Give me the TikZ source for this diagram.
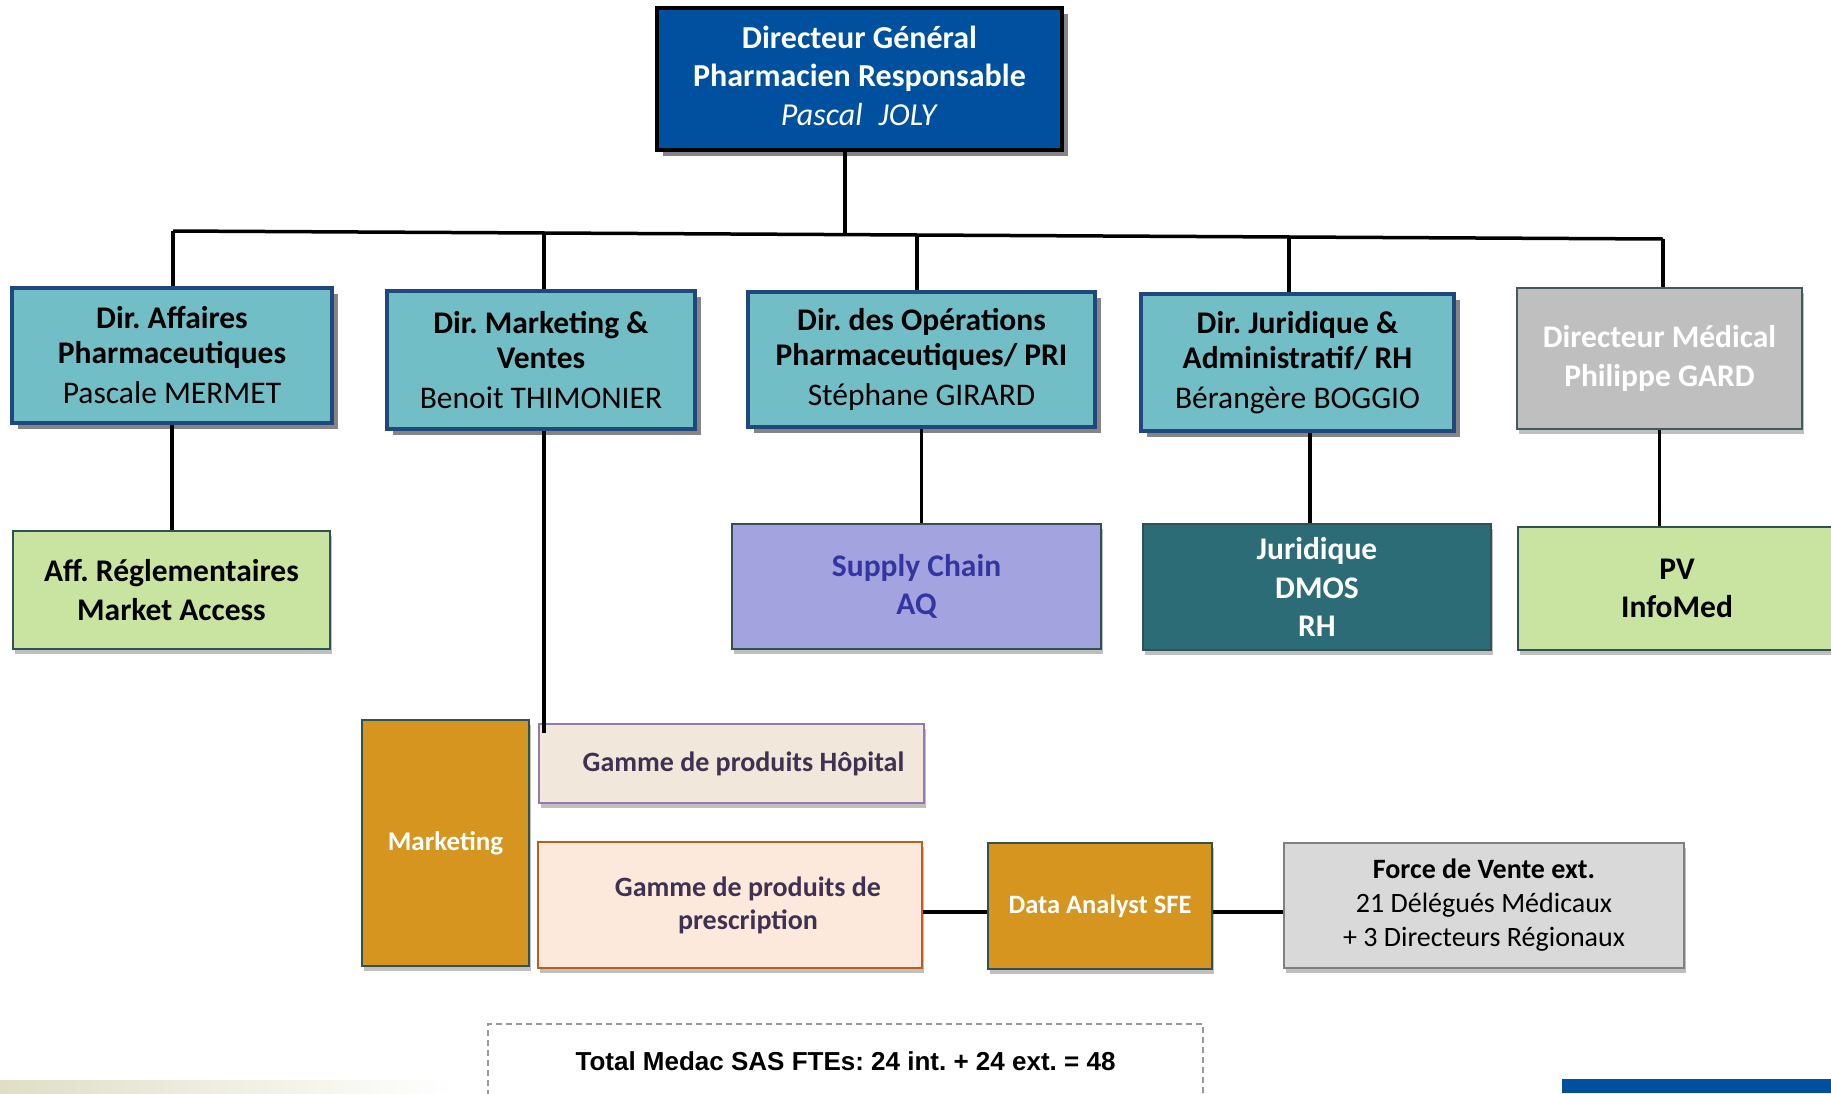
\documentclass[tikz,border=0pt]{standalone}
\usepackage{fontspec}
\setmainfont{Carlito}
\newfontfamily\arialfont{Liberation Sans}
\frenchspacing
\usetikzlibrary{shadows}
\definecolor{dgblue}{HTML}{0050A0}
\definecolor{teal1}{HTML}{72BEC6}
\definecolor{tealborder}{HTML}{1F497D}
\definecolor{medgray}{HTML}{BFBFBF}
\definecolor{lgreen}{HTML}{C9E3A0}
\definecolor{lavender}{HTML}{A3A4DF}
\definecolor{scblue}{HTML}{3335A0}
\definecolor{darkteal}{HTML}{2B6C77}
\definecolor{ochre}{HTML}{D5951E}
\definecolor{hopfill}{HTML}{F1E7DA}
\definecolor{hopborder}{HTML}{9579B5}
\definecolor{presfill}{HTML}{FDE9DB}
\definecolor{presborder}{HTML}{B8601E}
\definecolor{gamtext}{HTML}{3F3151}
\definecolor{forcefill}{HTML}{D9D9D9}
\definecolor{boxedge}{HTML}{2F5252}
\definecolor{hardshadow}{HTML}{858585}
\definecolor{stripcol}{HTML}{E0DEC6}
\begin{document}
\frenchspacing
\begin{tikzpicture}[x=1pt,y=-1pt,
  box/.style={draw, inner sep=0pt, align=center, line width=2pt},
  hard/.style={drop shadow={shadow xshift=6pt,shadow yshift=-6pt,fill=hardshadow,opacity=1}},
  soft/.style={drop shadow={shadow xshift=2pt,shadow yshift=-5pt,fill=black,opacity=0.25}},
  lone/.style={box, hard, fill=teal1, draw=tealborder, line width=3.5pt,
    font=\fontsize{31.5}{35}\selectfont},
  ltwo/.style={box, soft, draw=boxedge, font=\bfseries\fontsize{31.5}{38.5}\selectfont},
  gam/.style={box, soft, text=gamtext, font=\bfseries\fontsize{28}{33}\selectfont},
  conn/.style={line width=3.5pt}
]
\useasboundingbox (0,0) rectangle (1831,1093);
\fill[white] (0,0) rectangle (1831,1093);

% bottom decorations
\shade[left color=stripcol, right color=white] (0,1080) rectangle (455,1093);
\fill[dgblue] (1562,1079) rectangle (1831,1093);

% Directeur General
\node[box, hard, fill=dgblue, draw=black, line width=4pt, text=white,
  minimum width=405pt, minimum height=142pt,
  font=\fontsize{32}{38.5}\selectfont] (DG) at (859.5,79)
  {\textbf{Directeur Général}\\\textbf{Pharmacien Responsable}\\\textit{Pascal\enspace JOLY}\\[-31.5pt]};

% Level 1
\node[lone, minimum width=320pt, minimum height=135pt] (B1) at (172,355.5)
  {\textbf{Dir. Affaires}\\\textbf{Pharmaceutiques}\\[5pt]Pascale MERMET};
\node[lone, minimum width=308pt, minimum height=138pt] (B2) at (541,360)
  {\textbf{Dir. Marketing \&}\\\textbf{Ventes}\\[5pt]Benoit THIMONIER};
\node[lone, minimum width=347pt, minimum height=135pt] (B3) at (921.5,359.5)
  {\textbf{Dir. des Opérations}\\\textbf{Pharmaceutiques/ PRI}\\[5pt]Stéphane GIRARD};
\node[lone, minimum width=313pt, minimum height=137pt] (B4) at (1297.5,362.5)
  {\textbf{Dir. Juridique \&}\\\textbf{Administratif/ RH}\\[5pt]Bérangère BOGGIO};
\node[box, soft, fill=medgray, draw=boxedge!80!gray, text=white,
  minimum width=285pt, minimum height=141pt,
  font=\bfseries\fontsize{31.5}{38.5}\selectfont] (B5) at (1659.5,358.5)
  {Directeur Médical\\Philippe GARD};

% Level 2
\node[ltwo, fill=lgreen, minimum width=317pt, minimum height=118pt] (A1) at (171.5,590)
  {Aff. Réglementaires\\Market Access};
\node[ltwo, fill=lavender, text=scblue, minimum width=369pt, minimum height=125pt] (A3) at (916.5,586.5)
  {Supply Chain\\AQ};
\node[ltwo, fill=darkteal, text=white, minimum width=348pt, minimum height=126pt] (A4) at (1317,587)
  {Juridique\\DMOS\\RH};
\node[ltwo, fill=lgreen, minimum width=318pt, minimum height=123pt] (A5) at (1677,588.5)
  {PV\\InfoMed};

% Marketing group
\node[box, soft, fill=ochre, draw=boxedge, text=white, minimum width=167pt, minimum height=246pt,
  font=\bfseries\fontsize{27}{32}\selectfont] (MK) at (445.5,843) {Marketing};
\node[gam, fill=hopfill, draw=hopborder, minimum width=385pt, minimum height=79pt] (HOP) at (731.5,763.5)
  {\hspace*{24pt}Gamme de produits Hôpital};
\node[gam, fill=presfill, draw=presborder, minimum width=384pt, minimum height=126pt] (PRES) at (730,905)
  {\hspace*{36pt}Gamme de produits de\\\hspace*{36pt}prescription};
\node[box, soft, fill=ochre, draw=boxedge, text=white, minimum width=224pt, minimum height=126pt,
  font=\bfseries\fontsize{26.5}{31}\selectfont] (DA) at (1100,906) {Data Analyst SFE};
\node[box, soft, fill=forcefill, draw=gray, minimum width=400pt, minimum height=125pt,
  font=\fontsize{28}{34}\selectfont] (FV) at (1484,905.5)
  {\textbf{Force de Vente ext.}\\21 Délégués Médicaux\\+ 3 Directeurs Régionaux};

% Total
\node[draw=gray!80, dashed, line width=1.5pt, dash pattern=on 6pt off 4pt, minimum width=715pt, minimum height=74pt,
  inner sep=0pt, font=\arialfont\bfseries\fontsize{26}{30}\selectfont] (TOT) at (845.5,1061)
  {Total Medac SAS FTEs: 24 int. + 24 ext. = 48};

% Connectors
\coordinate (t1) at (173,231);
\coordinate (t2) at (544,233);
\coordinate (t3) at (917,235);
\coordinate (t4) at (1289,237);
\coordinate (t5) at (1663,239);
\coordinate (t0) at (845,235);
\coordinate (m1) at (544,733);
\draw[conn] (t1) -- (t5);
\draw[conn] (t0 |- DG.south) -- (t0);
\draw[conn] (t1) -- (t1 |- B1.north);
\draw[conn] (t2) -- (t2 |- B2.north);
\draw[conn] (t3) -- (t3 |- B3.north);
\draw[conn] (t4) -- (t4 |- B4.north);
\draw[conn] (t5) -- (t5 |- B5.north);
\draw[conn] (B1.south) -- (B1.south |- A1.north);
\draw[conn] (t2 |- B2.south) -- (m1);
\draw[conn] (B3.south) -- (B3.south |- A3.north);
\draw[conn] ([xshift=-7pt]A4.north |- B4.south) -- ([xshift=-7pt]A4.north);
\draw[conn] (B5.south) -- (B5.south |- A5.north);
\draw[conn] ([yshift=-7pt]PRES.east) -- ([yshift=-7pt]PRES.east -| DA.west);
\draw[conn] ([yshift=-6pt]DA.east) -- ([yshift=-6pt]DA.east -| FV.west);
\end{tikzpicture}
\end{document}
